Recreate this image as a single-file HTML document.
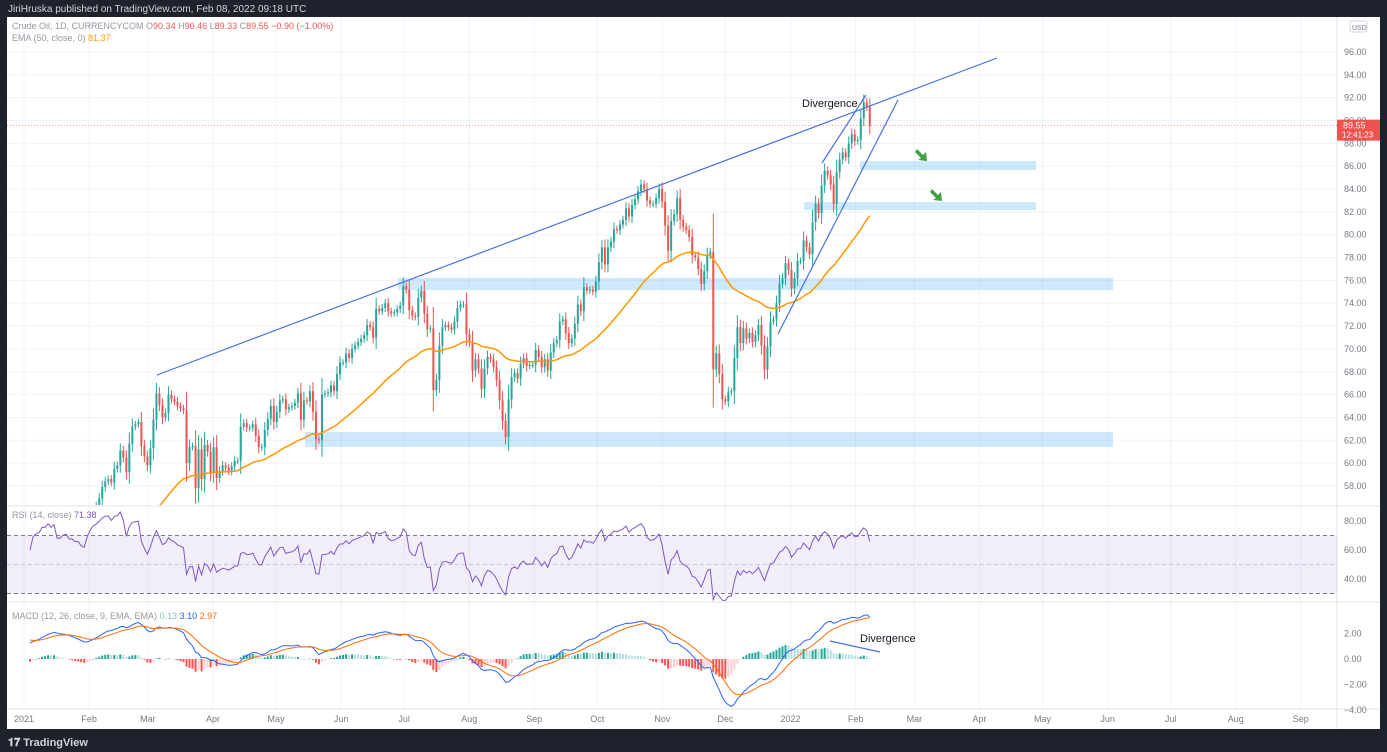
<!DOCTYPE html>
<html><head><meta charset="utf-8"><style>
body{margin:0;background:#1e222d;font-family:"Liberation Sans",sans-serif;}
#wrap{position:relative;width:1387px;height:752px;overflow:hidden;background:#1e222d}
svg text{font-family:"Liberation Sans",sans-serif}
</style></head><body>
<div id="wrap">
<svg id="c" width="1387" height="752" xmlns="http://www.w3.org/2000/svg">
<rect x="7" y="17" width="1373" height="712" fill="#ffffff"/>
<text x="8" y="12" font-size="10" fill="#d1d4dc">JiriHruska published on TradingView.com, Feb 08, 2022 09:18 UTC</text>
<g id="grid"></g><g id="zones"></g><g id="candles"></g><g id="ema"></g><g id="rsi"></g><g id="macd"></g><g id="draw"></g><g id="axes"></g>
<text x="12" y="29" font-size="9" fill="#9598a1">Crude Oil, 1D, CURRENCYCOM <tspan fill="#9598a1">O</tspan><tspan fill="#ef5350">90.34</tspan> H<tspan fill="#ef5350">90.46</tspan> L<tspan fill="#ef5350">89.33</tspan> C<tspan fill="#ef5350">89.55 −0.90 (−1.00%)</tspan></text>
<text x="12" y="41" font-size="9" fill="#9598a1">EMA (50, close, 0) <tspan fill="#ff9800">81.37</tspan></text>
<text x="12" y="518" font-size="9" fill="#9598a1">RSI (14, close) <tspan fill="#7e57c2">71.38</tspan></text>
<text x="12" y="619" font-size="9" fill="#9598a1">MACD (12, 26, close, 9, EMA, EMA) <tspan fill="#80cbc4">0.13</tspan> <tspan fill="#2962ff">3.10</tspan> <tspan fill="#ff6d00">2.97</tspan></text>
<text x="8" y="746" font-size="11" fill="#d1d4dc" font-weight="bold">𝟏𝟕 TradingView</text>
</svg></div>
<script>
const warmup=[36.8,37.7,38.8,38.8,37.1,40.3,41.4,41.1,41.2,40.1,41.4,41.4,41.7,41.7,42.2,42.4,43.0,44.9,45.7,45.5,45.5,
44.5,45.3,45.6,46.1,46.3,45.8,45.6,45.5,46.8,46.6,46.9,47.0,47.8,48.1,49.1,48.0,47.2,48.1,48.0,47.6,48.4,48.5];
const closes=[47.6,49.9,50.6,50.8,52.2,52.2,53.2,52.9,53.6,52.4,52.4,53.0,53.2,52.8,52.8,52.6,52.6,52.3,52.2,
53.6,54.8,55.7,56.2,56.9,57.9,58.4,58.6,58.3,59.5,59.8,61.1,60.5,59.2,61.7,63.2,63.4,63.6,61.5,
60.6,59.8,61.3,63.8,66.1,65.1,64.0,64.4,66.0,65.6,65.4,65.0,64.8,64.6,60.0,61.4,61.5,57.8,61.2,58.6,61.6,61.0,59.2,
61.4,58.7,59.3,59.8,59.6,59.3,59.7,60.2,60.2,63.2,63.5,63.1,63.1,63.4,62.4,61.4,61.4,62.9,63.9,65.0,63.6,
64.5,65.5,65.6,64.7,64.9,65.0,65.3,66.1,63.8,65.5,65.4,66.3,64.5,62.1,62.0,66.0,66.1,66.2,66.8,66.3,
67.8,68.8,68.8,69.6,69.2,70.0,70.3,70.6,70.9,71.2,72.1,71.9,71.0,73.5,73.3,73.6,74.0,73.3,73.1,73.2,73.5,73.8,
75.5,75.2,73.4,72.9,72.8,74.5,75.1,73.1,71.7,71.8,66.4,67.3,70.3,71.9,72.1,71.9,71.7,72.4,73.6,73.9,73.9,
71.3,70.6,68.1,69.1,68.3,66.5,68.3,69.3,69.1,68.4,67.3,65.5,63.7,62.3,65.6,67.5,67.9,67.4,68.7,69.2,68.5,68.6,
68.6,69.9,69.3,68.4,69.1,68.1,69.7,70.5,70.8,72.4,72.6,71.4,70.5,70.9,72.2,73.9,73.3,75.4,75.1,75.2,75.0,
75.9,77.6,78.9,77.4,78.9,79.4,80.5,80.4,80.9,81.3,82.3,81.6,82.6,83.1,83.8,84.4,84.0,83.0,82.7,82.7,83.2,
84.0,82.9,80.8,78.6,81.2,81.8,83.2,81.3,80.7,80.4,79.8,78.2,78.0,77.0,75.7,76.8,78.2,78.5,68.2,69.6,67.8,65.6,
65.4,66.2,66.3,69.2,71.9,70.5,71.8,70.9,71.4,70.6,71.2,72.1,70.3,68.2,70.2,72.4,72.6,74.0,75.7,76.2,77.5,76.9,75.3,
76.2,77.7,77.7,79.5,78.9,78.3,81.1,82.7,81.9,84.3,85.6,85.2,84.4,82.7,85.5,86.6,87.2,86.8,88.0,88.8,
88.2,88.3,90.2,91.6,91.2,89.55];
const priceTicks=[58,60,62,64,66,68,70,72,74,76,78,80,82,84,86,88,90,92,94,96];
const rsiTicks=[40,60,80];
const macdTicks=[2,0,-2,-4];
const monthLabels=["2021","Feb","Mar","Apr","May","Jun","Jul","Aug","Sep","Oct","Nov","Dec","2022","Feb","Mar","Apr","May","Jun","Jul","Aug","Sep"];
const monthDays=[0,31,59,90,120,151,181,212,243,273,304,334,365,396,424,455,485,516,546,577,608];
const NS="http://www.w3.org/2000/svg";
function mk(p,t,a){const e=document.createElementNS(NS,t);for(const k in a)e.setAttribute(k,a[k]);p.appendChild(e);return e;}
const W=warmup.length;
const X=i=>30+i*3.01, XD=d=>24+d*2.1;
const XA=j=>X(j-W);
const Y=p=>52+(96-p)*11.42;
const YR=v=>535.5+(70-v)*1.45;
const YM=v=>659-v*12.7;
const G=id=>document.getElementById(id);
const all=warmup.concat(closes);
// clip paths
const svg=G('c');
const cp1=mk(svg,'clipPath',{id:'mp'});mk(cp1,'rect',{x:7,y:17,width:1330,height:488});
const cp2=mk(svg,'clipPath',{id:'pane'});mk(cp2,'rect',{x:7,y:17,width:1330,height:692});
// grid
const grid=G('grid');
priceTicks.forEach(p=>{const l=mk(grid,'line',{x1:7,x2:1337,y1:Y(p),y2:Y(p),stroke:'#f0f3fa'});

});
monthDays.forEach(d=>{const l=mk(grid,'line',{x1:XD(d),x2:XD(d),y1:17,y2:709,stroke:'#f0f3fa'});

});
[506,602,709].forEach(y=>{const l=mk(grid,'line',{x1:7,x2:1380,y1:y,y2:y,stroke:'#e0e3eb'});

});
const ax=mk(grid,'line',{x1:1337,x2:1337,y1:17,y2:729,stroke:'#e0e3eb'});


// zones
const zones=G('zones');
[[305,432,808,15],[398,278,715,12],[804,202,232,8],[860,161,176,9]].forEach(z=>{const r=mk(zones,'rect',{x:z[0],y:z[1],width:z[2],height:z[3],fill:'rgba(33,150,243,0.22)'});

});
// candles
const cg=G('candles');cg.setAttribute('clip-path','url(#mp)');
closes.forEach((c,i)=>{const o=all[i+W-1];const up=c>=o;const col=up?'#26a69a':'#ef5350';
const sw=Math.max(0.3,Math.abs(c-o)*0.3+0.25);const hi=Math.max(o,c)+sw,lo=Math.min(o,c)-sw;const x=X(i);
const w=mk(cg,'line',{x1:x,x2:x,y1:Y(hi),y2:Y(lo),stroke:col,'stroke-width':1});


const b=mk(cg,'rect',{x:x-1,y:Y(Math.max(o,c)),width:2,height:Math.max(1,Math.abs(Y(o)-Y(c))),fill:col});

});
// EMA
function ema(a,n){const k=2/(n+1);const r=[];a.forEach((v,i)=>r.push(i?v*k+r[i-1]*(1-k):v));return r;}
const e50=ema(all,50);
const pathOf=(arr,fy)=>arr.map((v,j)=>j<W?null:((j===W?'M':'L')+XA(j)+' '+fy(v))).filter(s=>s).join('');
const ep=mk(G('ema'),'path',{d:pathOf(e50,Y),fill:'none',stroke:'#ff9800','stroke-width':1.5,'clip-path':'url(#mp)'});


// RSI
const rsi=[];let ag=0,al=0;
all.forEach((c,i)=>{if(!i){rsi.push(50);return;}const d=c-all[i-1];const g=Math.max(d,0),l=Math.max(-d,0);
if(i<=14){ag+=g/14;al+=l/14;}else{ag=(ag*13+g)/14;al=(al*13+l)/14;}rsi.push(al===0?100:100-100/(1+ag/al));});
const rg=G('rsi');rg.setAttribute('clip-path','url(#pane)');
const band=mk(rg,'rect',{x:7,y:YR(70),width:1330,height:YR(30)-YR(70),fill:'rgba(126,87,194,0.1)'});


[70,50,30].forEach(v=>{const l=mk(rg,'line',{x1:7,x2:1337,y1:YR(v),y2:YR(v),stroke:v==50?'#c9c3dc':'#787b86','stroke-dasharray':'4 3'});

});
const rp=mk(rg,'path',{d:pathOf(rsi,YR),fill:'none',stroke:'#7e57c2','stroke-width':1});


// MACD
const e12=ema(all,12),e26=ema(all,26);const macd=e12.map((v,i)=>v-e26[i]);const sig=ema(macd,9);
const mg=G('macd');mg.setAttribute('clip-path','url(#pane)');
macd.forEach((m,j)=>{if(j<W)return;const h=m-sig[j];const ph=macd[j-1]-sig[j-1];let col=h>=0?(h>=ph?'#26a69a':'#b2dfdb'):(h<ph?'#ff5252':'#ffcdd2');
const r=mk(mg,'rect',{x:XA(j)-1,y:Math.min(YM(0),YM(h)),width:2,height:Math.max(0.5,Math.abs(YM(h)-YM(0))),fill:col});

});
const mp1=mk(mg,'path',{d:pathOf(macd,YM),fill:'none',stroke:'#2962ff','stroke-width':1});


const mp2=mk(mg,'path',{d:pathOf(sig,YM),fill:'none',stroke:'#ff6d00','stroke-width':1});


// drawings
const dg=G('draw');
[[157,375,997,58,'resistance-trendline'],[822,163,866,95,'channel-upper-line'],[778,334,898,100,'channel-lower-line'],[830,641,880,652,'macd-divergence-line']].forEach(l=>{
const e=mk(dg,'line',{x1:l[0],y1:l[1],x2:l[2],y2:l[3],stroke:'#4a6fe3','stroke-width':1.2});

});
const t1=mk(dg,'text',{x:802,y:107,'font-size':11,fill:'#131722'});t1.textContent='Divergence';


const t2=mk(dg,'text',{x:860,y:642,'font-size':11,fill:'#131722'});t2.textContent='Divergence';


[[915,152],[930,192]].forEach(a=>{const p=mk(dg,'path',{d:`M${a[0]} ${a[1]} L${a[0]+6} ${a[1]+6} L${a[0]+3} ${a[1]+8} L${a[0]+12} ${a[1]+9} L${a[0]+11} ${a[1]}  L${a[0]+8} ${a[1]+3} L${a[0]+2} ${a[1]-3}Z`,fill:'#43a047'});

});
// axes
const axg=G('axes');
priceTicks.forEach(p=>{const t=mk(axg,'text',{x:1344,y:Y(p)+3,'font-size':9,fill:'#787b86'});t.textContent=p.toFixed(2);

});
rsiTicks.forEach(v=>{const t=mk(axg,'text',{x:1344,y:YR(v)+3,'font-size':9,fill:'#787b86'});t.textContent=v.toFixed(2);

});
macdTicks.forEach(v=>{const t=mk(axg,'text',{x:1344,y:YM(v)+3,'font-size':9,fill:'#787b86'});t.textContent=(v<0?'−':'')+Math.abs(v).toFixed(2);

});
monthLabels.forEach((m,i)=>{const t=mk(axg,'text',{x:XD(monthDays[i]),y:722,'font-size':9,fill:'#787b86','text-anchor':'middle'});t.textContent=m;

});
const pl=mk(axg,'line',{x1:7,x2:1337,y1:Y(89.55),y2:Y(89.55),stroke:'#ef5350','stroke-dasharray':'1 2','stroke-width':0.6});


const pb=mk(axg,'rect',{x:1337,y:Y(89.55)-6,width:43,height:21,fill:'#ef5350'});


const pt=mk(axg,'text',{x:1343,y:Y(89.55)+3,'font-size':9,fill:'#fff'});pt.textContent='89.55';


const ct=mk(axg,'text',{x:1342,y:Y(89.55)+12,'font-size':8,fill:'#fff'});ct.textContent='12:41:23';


const ub=mk(axg,'rect',{x:1350,y:21,width:17,height:11,rx:2,fill:'#fff',stroke:'#d1d4dc'});


const ut=mk(axg,'text',{x:1352,y:30,'font-size':7,fill:'#787b86'});ut.textContent='USD';


</script></body></html>
